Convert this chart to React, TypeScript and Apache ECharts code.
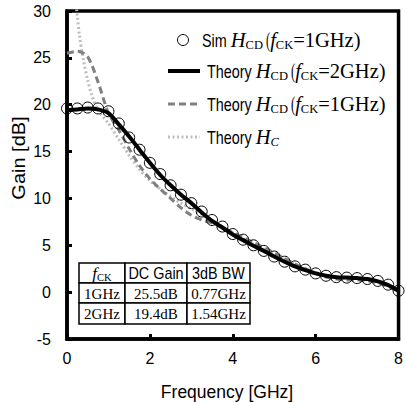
import React, { useEffect, useRef } from "react";
import * as echarts from "echarts";

// ---------- data ----------
const freq = [0, 0.25, 0.5, 0.75, 1, 1.25, 1.5, 1.75, 2, 2.25, 2.5, 2.75, 3, 3.25, 3.5, 3.75, 4, 4.25, 4.5, 4.75, 5, 5.25, 5.5, 5.75, 6, 6.25, 6.5, 6.75, 7, 7.25, 7.5, 7.75, 8];
const simGain = [19.6, 19.6, 19.7, 19.6, 19.3, 18.0, 16.5, 15.2, 13.8, 12.6, 11.4, 10.4, 9.5, 8.6, 7.7, 7.0, 6.2, 5.6, 5.0, 4.4, 3.8, 3.25, 2.75, 2.4, 2.0, 1.75, 1.6, 1.55, 1.5, 1.4, 1.2, 0.8, 0.15];
const theory2GHz = [19.4, 19.5, 19.6, 19.5, 19.1, 17.9, 16.6, 15.2, 13.8, 12.5, 11.4, 10.4, 9.5, 8.5, 7.6, 6.9, 6.15, 5.55, 4.95, 4.4, 3.8, 3.25, 2.75, 2.35, 2.0, 1.75, 1.6, 1.55, 1.5, 1.4, 1.15, 0.75, 0.15];
const theory1GHz = [25.5, 25.7, 25.1, 22.4, 19.1, 17.3, 15.3, 13.5, 12.1, 11.0, 10.0, 9.0, 8.2, 7.7, 7.4, 6.95, 6.35, 5.85, 5.3, 4.75, 4.2, 3.6, 3.0, 2.5, 2.0, 1.6, 1.4, 1.3, 1.3, 1.2, 1.0, 0.6, 0.1];
const freqHC = [0.15, 0.2, 0.25, 0.3, 0.4, 0.5, 0.6, 0.75, 1, 1.25, 1.5, 1.75, 2, 2.25, 2.5, 2.75, 3, 3.25, 3.5, 3.75, 4, 4.25, 4.5, 4.75, 5, 5.25, 5.5, 5.75, 6, 6.25, 6.5, 6.75, 7, 7.25, 7.5, 7.75, 8];
const theoryHC = [35, 31.5, 29.5, 27.4, 24.7, 22.6, 21.0, 19.4, 18.0, 16.3, 14.6, 13.1, 11.9, 11.0, 10.2, 9.5, 8.9, 8.3, 7.6, 7.0, 6.3, 5.7, 5.1, 4.6, 4.0, 3.5, 3.0, 2.5, 2.1, 1.8, 1.6, 1.5, 1.45, 1.35, 1.1, 0.7, 0.1];

const xTicks = { min: 0, max: 8, interval: 2 };
const yTicks = { min: -5, max: 30, interval: 5 };
const xTitle = "Frequency [GHz]";
const yTitle = "Gain [dB]";

type Seg = { t: string; f: string };
const legendRows: Seg[][] = [
  [{ t: "Sim ", f: "sans" }, { t: "H", f: "serifI" }, { t: "CD", f: "sub" }, { t: " (", f: "serifN" }, { t: "f", f: "serifI" }, { t: "CK", f: "sub" }, { t: "=1GHz)", f: "serif" }],
  [{ t: "Theory ", f: "sans" }, { t: "H", f: "serifI" }, { t: "CD", f: "sub" }, { t: " (", f: "serifN" }, { t: "f", f: "serifI" }, { t: "CK", f: "sub" }, { t: "=2GHz)", f: "serif" }],
  [{ t: "Theory ", f: "sans" }, { t: "H", f: "serifI" }, { t: "CD", f: "sub" }, { t: " (", f: "serifN" }, { t: "f", f: "serifI" }, { t: "CK", f: "sub" }, { t: "=1GHz)", f: "serif" }],
  [{ t: "Theory ", f: "sans" }, { t: "H", f: "serifI" }, { t: "C", f: "subI" }],
];

const tableHeader: Seg[][] = [
  [{ t: "f", f: "serifI" }, { t: "CK", f: "sub" }],
  [{ t: "DC Gain", f: "sans" }],
  [{ t: "3dB BW", f: "sans" }],
];
const tableRows = [
  ["1GHz", "25.5dB", "0.77GHz"],
  ["2GHz", "19.4dB", "1.54GHz"],
];

// ---------- helpers ----------
const SANS = "'Liberation Sans', Arial, sans-serif";
const SERIF = "'Liberation Serif', 'Times New Roman', serif";

type St = { size: number; family: string; style: string; dy: number; sx: number };

const legendStyles: Record<string, St> = {
  sans: { size: 18, family: SANS, style: "normal", dy: 0, sx: 0.8 },
  serif: { size: 20.5, family: SERIF, style: "normal", dy: 0, sx: 1 },
  serifN: { size: 20.5, family: SERIF, style: "normal", dy: 0, sx: 0.6 },
  serifI: { size: 20.5, family: SERIF, style: "italic", dy: 0, sx: 1 },
  sub: { size: 12.5, family: SERIF, style: "normal", dy: 5, sx: 1 },
  subI: { size: 12.5, family: SERIF, style: "italic", dy: 5, sx: 1 },
};
const tableStyles: Record<string, St> = {
  sans: { size: 16, family: SANS, style: "normal", dy: 0, sx: 0.9 },
  serif: { size: 15, family: SERIF, style: "normal", dy: 0, sx: 1 },
  serifN: { size: 15, family: SERIF, style: "normal", dy: 0, sx: 1 },
  serifI: { size: 17, family: SERIF, style: "italic", dy: 0, sx: 1 },
  sub: { size: 10.5, family: SERIF, style: "normal", dy: 4, sx: 1 },
  subI: { size: 10.5, family: SERIF, style: "italic", dy: 4, sx: 1 },
};

let measureCtx: CanvasRenderingContext2D | null = null;
function measure(text: string, st: St) {
  if (!measureCtx) measureCtx = document.createElement("canvas").getContext("2d");
  if (!measureCtx) return text.length * st.size * 0.5;
  measureCtx.font = `${st.style} ${st.size}px ${st.family}`;
  return measureCtx.measureText(text).width;
}

function richLine(segs: Seg[], styles: Record<string, St>) {
  let cx = 0;
  const children: any[] = [];
  segs.forEach((s) => {
    const st = styles[s.f];
    children.push({
      type: "text",
      x: cx,
      y: st.dy,
      scaleX: st.sx,
      style: {
        text: s.t,
        fontSize: st.size,
        fontFamily: st.family,
        fontStyle: st.style,
        fill: "#000",
        align: "left",
        verticalAlign: "middle",
      },
    });
    cx += measure(s.t, st) * st.sx;
  });
  return { children, width: cx };
}

export default function App() {
  const ref = useRef<HTMLDivElement>(null);

  useEffect(() => {
    if (!ref.current) return;
    const chart = echarts.init(ref.current, null, { renderer: "svg" });

    const graphics: any[] = [];

    // Legend
    const legendY = [40, 71, 104, 137];
    const legendTextX = [202, 207, 207, 207];
    graphics.push({
      type: "circle",
      shape: { cx: 183, cy: legendY[0], r: 5.5 },
      style: { fill: "none", stroke: "#000", lineWidth: 1 },
    });
    graphics.push({
      type: "line",
      shape: { x1: 168, y1: legendY[1], x2: 200, y2: legendY[1] },
      style: { stroke: "#000", lineWidth: 4 },
    });
    graphics.push({
      type: "line",
      shape: { x1: 168, y1: legendY[2], x2: 200, y2: legendY[2] },
      style: { stroke: "#808080", lineWidth: 3, lineDash: [7, 4] },
    });
    graphics.push({
      type: "line",
      shape: { x1: 168, y1: legendY[3], x2: 200, y2: legendY[3] },
      style: { stroke: "#bdbdbd", lineWidth: 3, lineDash: [2, 2.5] },
    });
    legendRows.forEach((row, i) => {
      const r = richLine(row, legendStyles);
      graphics.push({ type: "group", x: legendTextX[i], y: legendY[i], children: r.children });
    });

    // Table
    const colX = [79, 125, 187, 250];
    const rowY = [263, 283, 303, 324];
    const cells: any[] = [];
    for (let ri = 0; ri < 3; ri++) {
      for (let ci = 0; ci < 3; ci++) {
        cells.push({
          type: "rect",
          shape: { x: colX[ci], y: rowY[ri], width: colX[ci + 1] - colX[ci], height: rowY[ri + 1] - rowY[ri] },
          style: { fill: "#fff", stroke: "#000", lineWidth: 1.5 },
        });
        const segs: Seg[] = ri === 0 ? tableHeader[ci] : [{ t: tableRows[ri - 1][ci], f: "serif" }];
        const r = richLine(segs, tableStyles);
        cells.push({
          type: "group",
          x: (colX[ci] + colX[ci + 1]) / 2 - r.width / 2,
          y: (rowY[ri] + rowY[ri + 1]) / 2 + 0.5,
          children: r.children,
        });
      }
    }
    graphics.push(...cells);

    // Axis titles
    graphics.push({
      type: "text",
      x: 227,
      y: 392,
      style: { text: xTitle, fontSize: 17.5, fontFamily: SANS, fill: "#000", align: "center", verticalAlign: "middle" },
    });
    graphics.push({
      type: "text",
      x: 18.5,
      y: 158,
      rotation: Math.PI / 2,
      scaleY: 0.9,
      style: { text: yTitle, fontSize: 20, fontFamily: SANS, fill: "#000", align: "center", verticalAlign: "middle" },
    });

    const axisCommon = {
      axisTick: { show: true, inside: true, length: 5, lineStyle: { color: "#000", width: 3 } },
      splitLine: { show: false },
      axisLabel: { color: "#000", fontSize: 16, fontFamily: SANS },
    };

    chart.setOption({
      animation: false,
      backgroundColor: "#fff",
      grid: {
        left: 67,
        right: 3,
        top: 11,
        bottom: 64,
        show: true,
        borderColor: "#000",
        borderWidth: 3.5,
        backgroundColor: "transparent",
      },
      xAxis: {
        type: "value",
        ...xTicks,
        ...axisCommon,
        axisLine: { show: true, onZero: false, lineStyle: { color: "#000", width: 3.5 } },
        axisLabel: { ...axisCommon.axisLabel, margin: 11 },
      },
      yAxis: {
        type: "value",
        ...yTicks,
        ...axisCommon,
        axisLine: { show: true, onZero: false, lineStyle: { color: "#000", width: 3.5 } },
        axisLabel: { ...axisCommon.axisLabel, margin: 16 },
      },
      series: [
        {
          type: "line",
          data: freqHC.map((x, i) => [x, theoryHC[i]]),
          showSymbol: false,
          smooth: 0.3,
          clip: true,
          lineStyle: { color: "#bdbdbd", width: 3, type: [2, 2.5] },
          z: 2,
        },
        {
          type: "line",
          data: freq.map((x, i) => [x, theory1GHz[i]]),
          showSymbol: false,
          smooth: 0.3,
          clip: true,
          lineStyle: { color: "#808080", width: 3, type: [7, 4] },
          z: 3,
        },
        {
          type: "line",
          data: freq.map((x, i) => [x, theory2GHz[i]]),
          showSymbol: false,
          smooth: 0.3,
          clip: true,
          lineStyle: { color: "#000", width: 4 },
          z: 4,
        },
        {
          type: "line",
          data: freq.map((x, i) => [x, simGain[i]]),
          lineStyle: { width: 0, opacity: 0 },
          symbol: "circle",
          symbolSize: 11,
          showSymbol: true,
          itemStyle: { color: "rgba(0,0,0,0)", borderColor: "#000", borderWidth: 1 },
          clip: false,
          z: 5,
        },
      ],
      graphic: graphics,
    });

    return () => chart.dispose();
  }, []);

  return (
    <div
      ref={ref}
      style={{ position: "fixed", left: 0, top: 0, width: 406, height: 403, background: "#fff" }}
    />
  );
}
